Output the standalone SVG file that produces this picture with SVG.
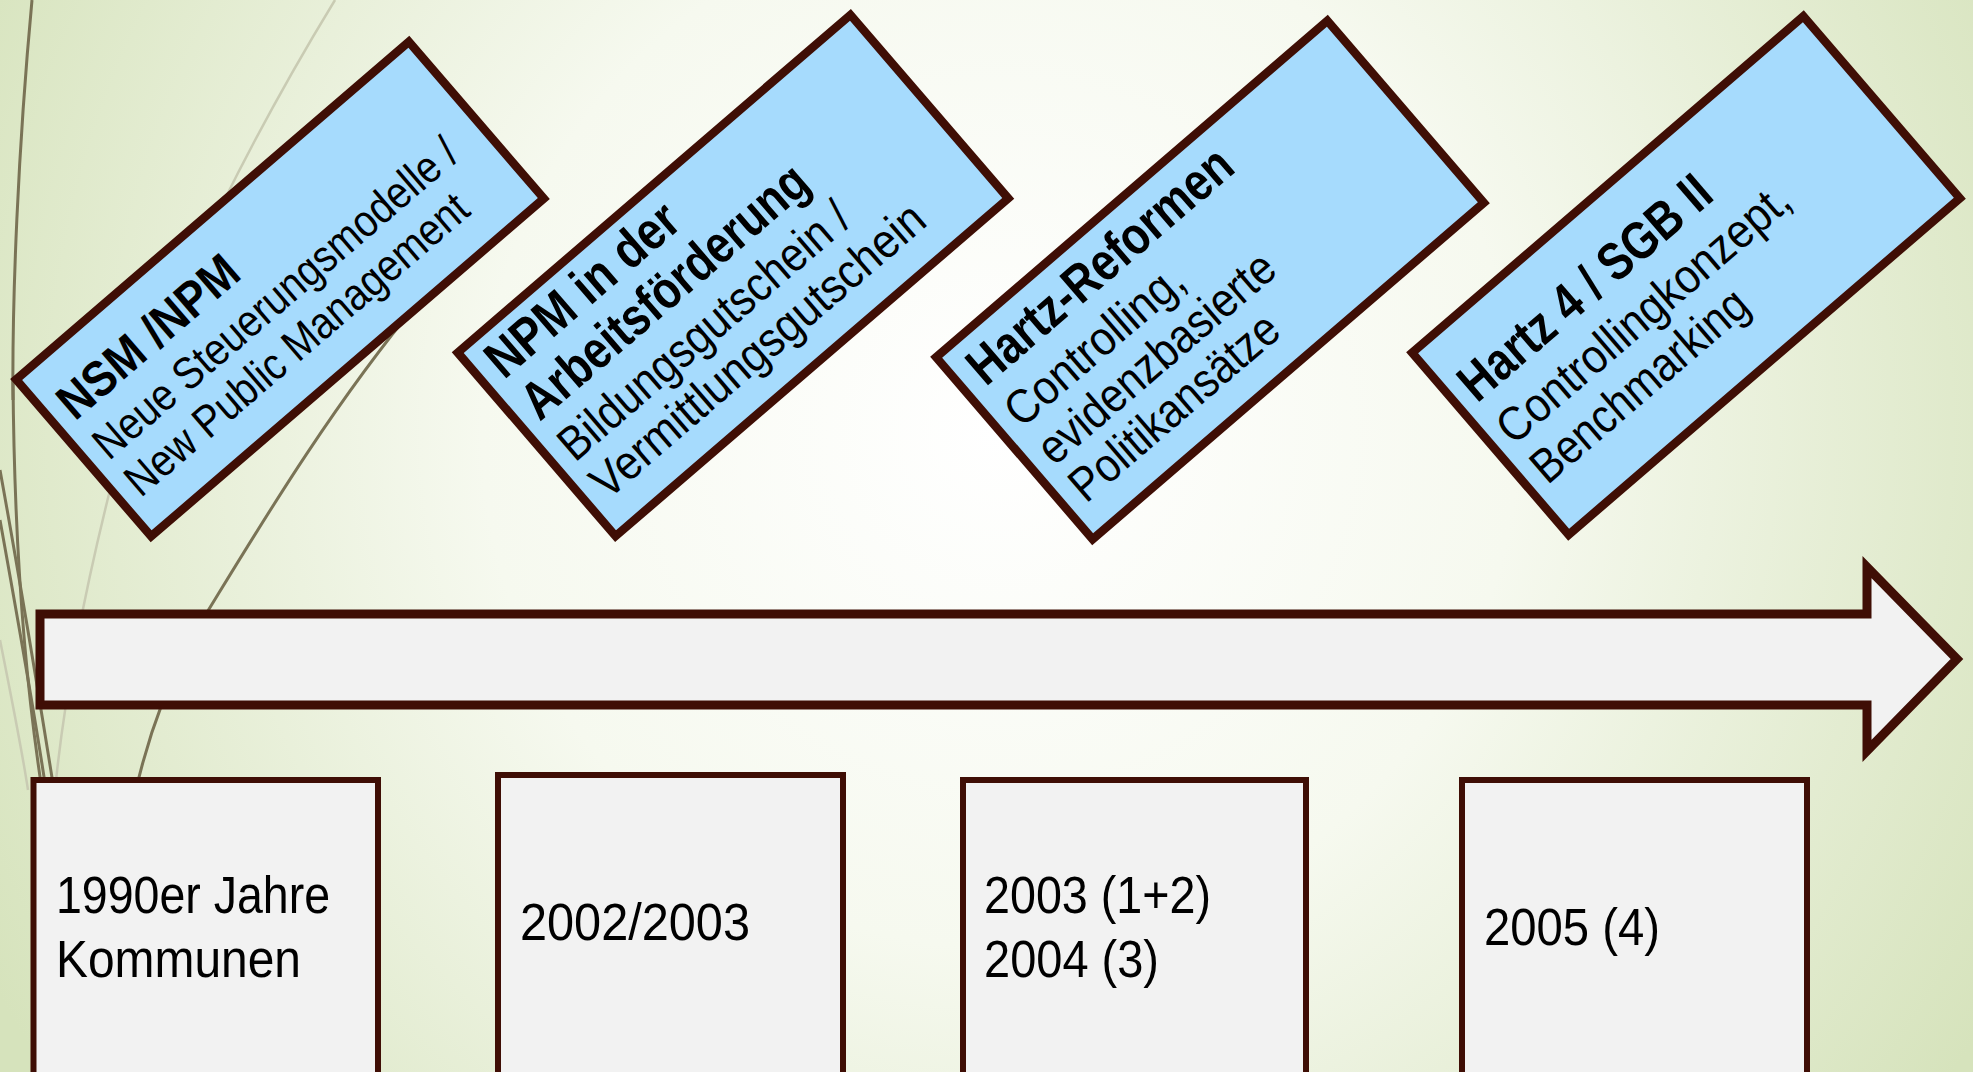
<svg xmlns="http://www.w3.org/2000/svg" width="1973" height="1072" viewBox="0 0 1973 1072">
  <defs>
    <radialGradient id="bg" gradientUnits="userSpaceOnUse" cx="1000" cy="430" r="1150">
      <stop offset="0" stop-color="#FFFFFF"/>
      <stop offset="0.45" stop-color="#F6F9EF"/>
      <stop offset="1" stop-color="#D6E3BC"/>
    </radialGradient>
    <style>
      .tag { fill: #A6DBFD; stroke: #3F0E05; stroke-width: 8.5; stroke-linejoin: miter; }
      .year { fill: #F2F2F2; stroke: #3F0E05; stroke-width: 6; }
      .arrow { fill: #F2F2F2; stroke: #3F0E05; stroke-width: 9; stroke-linejoin: miter; stroke-miterlimit: 10; }
      .b { font-family: "Liberation Sans", Arial, sans-serif; font-weight: bold; fill: #000; }
      .r { font-family: "Liberation Sans", Arial, sans-serif; fill: #000; }
      .yt { font-family: "Liberation Sans", Arial, sans-serif; font-size: 51px; fill: #000; }
      .wisp { fill: none; stroke: #7A7356; stroke-width: 3; }
      .wispl { fill: none; stroke: #C9CBB3; stroke-width: 2.5; }
    </style>
  </defs>

  <rect width="1973" height="1072" fill="url(#bg)"/>

  <!-- decorative wisps -->
  <g id="wisps">
    <path class="wispl" d="M 335 0 C 280 90 160 300 110 490 C 85 590 65 690 55 790"/>
    <path class="wispl" d="M 0 640 C 12 700 22 750 28 790"/>
    <path class="wisp" stroke-width="2" d="M 32 0 C 18 150 12 300 13 400"/>
    <path class="wisp" d="M 13 380 C 14 520 22 660 42 790"/>
    <path class="wisp" d="M 0 470 C 20 580 38 690 54 790"/>
    <path class="wisp" d="M 0 520 C 18 620 34 710 46 790"/>
    <path class="wisp" stroke-width="2.5" d="M 420 300 C 320 420 240 560 190 640 C 160 700 145 750 136 790"/>
  </g>

  <!-- timeline arrow -->
  <g id="timeline">
    <path class="arrow" d="M 40 614 L 1867 614 L 1867 567 L 1957 659 L 1867 751 L 1867 705 L 40 705 Z"/>
  </g>

  <!-- top tags -->
  <g id="tag-nsm" transform="translate(280,289) rotate(-40.7)">
    <rect class="tag" x="-259" y="-103.5" width="518" height="207"/>
    <text class="b" x="-242" y="-33" font-size="50" textLength="222" lengthAdjust="spacingAndGlyphs">NSM /NPM</text>
    <text class="r" x="-242" y="19" font-size="45" textLength="465" lengthAdjust="spacingAndGlyphs">Neue Steuerungsmodelle /</text>
    <text class="r" x="-242" y="68" font-size="45" textLength="437" lengthAdjust="spacingAndGlyphs">New Public Management</text>
  </g>

  <g id="tag-npm" transform="translate(733,275.5) rotate(-40.7)">
    <rect class="tag" x="-259" y="-121" width="518" height="242"/>
    <text class="b" x="-242" y="-70" font-size="53" textLength="237" lengthAdjust="spacingAndGlyphs">NPM in der</text>
    <text class="b" x="-242" y="-15" font-size="53" textLength="360" lengthAdjust="spacingAndGlyphs">Arbeitsförderung</text>
    <text class="r" x="-242" y="39" font-size="48" textLength="368" lengthAdjust="spacingAndGlyphs">Bildungsgutschein /</text>
    <text class="r" x="-242" y="89" font-size="48" textLength="424" lengthAdjust="spacingAndGlyphs">Vermittlungsgutschein</text>
  </g>

  <g id="tag-hartz" transform="translate(1210,280) rotate(-40.7)">
    <rect class="tag" x="-258" y="-120" width="516" height="240"/>
    <text class="b" x="-240" y="-65" font-size="53" textLength="332" lengthAdjust="spacingAndGlyphs">Hartz-Reformen</text>
    <text class="r" x="-240" y="-10" font-size="48" textLength="220" lengthAdjust="spacingAndGlyphs">Controlling,</text>
    <text class="r" x="-240" y="40" font-size="48" textLength="297" lengthAdjust="spacingAndGlyphs">evidenzbasierte</text>
    <text class="r" x="-240" y="89" font-size="48" textLength="260" lengthAdjust="spacingAndGlyphs">Politikansätze</text>
  </g>

  <g id="tag-sgb" transform="translate(1686,275.5) rotate(-40.7)">
    <rect class="tag" x="-258" y="-120" width="516" height="240"/>
    <text class="b" x="-242" y="-39" font-size="53" textLength="315" lengthAdjust="spacingAndGlyphs">Hartz 4 / SGB II</text>
    <text class="r" x="-242" y="17" font-size="48" textLength="370" lengthAdjust="spacingAndGlyphs">Controllingkonzept,</text>
    <text class="r" x="-242" y="69" font-size="48" textLength="270" lengthAdjust="spacingAndGlyphs">Benchmarking</text>
  </g>

  <!-- year boxes -->
  <g id="year-1990">
    <rect class="year" x="33.5" y="780" width="344.5" height="320"/>
    <text class="yt" x="56" y="913" textLength="274" lengthAdjust="spacingAndGlyphs">1990er Jahre</text>
    <text class="yt" x="56" y="977" textLength="245" lengthAdjust="spacingAndGlyphs">Kommunen</text>
  </g>
  <g id="year-2002">
    <rect class="year" x="498" y="775" width="345" height="325"/>
    <text class="yt" x="520" y="940" textLength="230" lengthAdjust="spacingAndGlyphs">2002/2003</text>
  </g>
  <g id="year-2003">
    <rect class="year" x="963" y="780" width="343" height="320"/>
    <text class="yt" x="984" y="913" textLength="227" lengthAdjust="spacingAndGlyphs">2003 (1+2)</text>
    <text class="yt" x="984" y="977" textLength="175" lengthAdjust="spacingAndGlyphs">2004 (3)</text>
  </g>
  <g id="year-2005">
    <rect class="year" x="1462" y="780" width="345" height="320"/>
    <text class="yt" x="1484" y="945" textLength="176" lengthAdjust="spacingAndGlyphs">2005 (4)</text>
  </g>
</svg>
